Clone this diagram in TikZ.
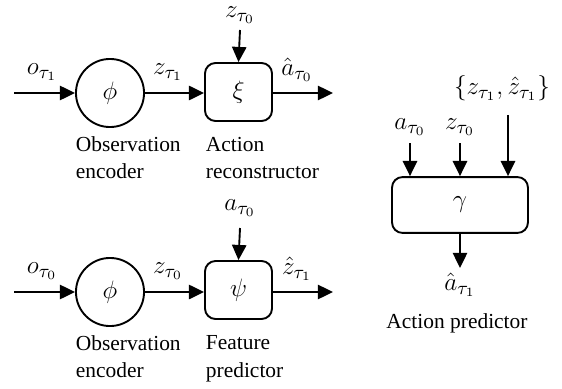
\documentclass[tikz,border=0pt]{standalone}
\usepackage{fontspec}
\setmainfont{Liberation Serif}
\usetikzlibrary{arrows.meta}
\begin{document}
\begin{tikzpicture}[x=0.476pt,y=-0.476pt,
  line width=0.9pt,
  arr/.style={-{Triangle[length=7.2pt,width=6.8pt]}},
  encnode/.style={draw,circle,minimum size=32.4pt,inner sep=0pt,font=\fontsize{12.5}{15}\selectfont},
  boxnode/.style={draw,rounded corners=5pt,minimum width=31.9pt,minimum height=27.6pt,inner sep=0pt,font=\fontsize{12.5}{15}\selectfont},
  mlabel/.style={inner sep=0pt,font=\fontsize{12.5}{15}\selectfont},
  desc/.style={align=left,anchor=north west,inner sep=0pt,font=\fontsize{10.2}{12.9}\selectfont}]
\useasboundingbox (0,0) rectangle (562,389);
% ---- top row
\coordinate (in1) at (14,93);
\node[encnode] (enc1) at (110,93) {$\phi$};
\node[boxnode] (xi) at (238.5,92) {$\xi$};
\coordinate (out1) at (333,93);
\coordinate (ztop) at (240,30);
\node[mlabel] (lo1) at (42,72) {$o_{\tau_1}$};
\node[mlabel] (lz1) at (168,72) {$z_{\tau_1}$};
\node[mlabel] (la1) at (297,70) {$\hat{a}_{\tau_0}$};
\node[mlabel] (lzt) at (240,15) {$z_{\tau_0}$};
\draw[arr] (in1) -- (enc1);
\draw[arr] (enc1) -- (enc1 -| xi.west);
\draw[arr] (xi.east |- out1) -- (out1);
\draw[arr] (ztop) -- (xi.north);
\node[desc] (d1) at (75,136) {Observation\\encoder};
\node[desc] (d2) at (205,136) {Action\\reconstructor};
% ---- bottom row
\coordinate (in2) at (14,292);
\node[encnode] (enc2) at (110,292) {$\phi$};
\node[boxnode] (psi) at (238.5,290) {$\psi$};
\coordinate (out2) at (333,292);
\coordinate (atop) at (240,228);
\node[mlabel] (lo2) at (42,271) {$o_{\tau_0}$};
\node[mlabel] (lz2) at (168,271) {$z_{\tau_0}$};
\node[mlabel] (lz3) at (297,269) {$\hat{z}_{\tau_1}$};
\node[mlabel] (lat) at (240,208) {$a_{\tau_0}$};
\draw[arr] (in2) -- (enc2);
\draw[arr] (enc2) -- (enc2 -| psi.west);
\draw[arr] (psi.east |- out2) -- (out2);
\draw[arr] (atop) -- (psi.north);
\node[desc] (d3) at (75,335) {Observation\\encoder};
\node[desc] (d4) at (205,335) {Feature\\predictor};
% ---- right
\node[boxnode,minimum width=64.7pt,minimum height=26.6pt] (gam) at (460,205) {$\gamma$};
\coordinate (g1) at (410,143);
\coordinate (g2) at (460,143);
\coordinate (g3) at (508,115);
\coordinate (gout) at (460,268);
\node[mlabel] (lg1) at (410,127) {$a_{\tau_0}$};
\node[mlabel] (lg2) at (460,127) {$z_{\tau_0}$};
\node[mlabel] (lg3) at (502,88) {$\{z_{\tau_1},\hat{z}_{\tau_1}\}$};
\node[mlabel] (lg4) at (460,285) {$\hat{a}_{\tau_1}$};
\draw[arr] (g1) -- (g1 |- gam.north);
\draw[arr] (g2) -- (g2 |- gam.north);
\draw[arr] (g3) -- (g3 |- gam.north);
\draw[arr] (gam.south) -- (gout);
\node[inner sep=0pt,font=\fontsize{10.2}{12}\selectfont] (d5) at (457,323) {Action predictor};
\end{tikzpicture}
\end{document}
